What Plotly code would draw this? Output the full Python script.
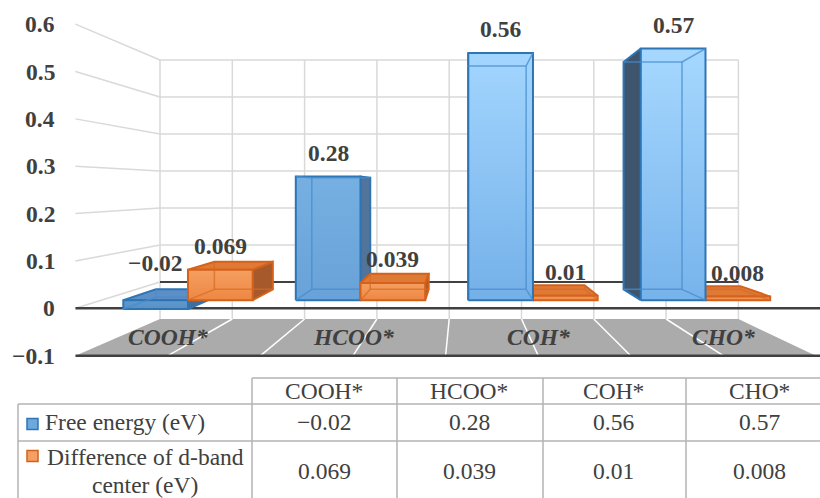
import plotly.graph_objects as go

# ---- data -------------------------------------------------------------
categories = ["COOH*", "HCOO*", "COH*", "CHO*"]
free_energy = [-0.02, 0.28, 0.56, 0.57]
dband_diff = [0.069, 0.039, 0.01, 0.008]
series_labels = ["Free energy (eV)", "Difference of d-band<br>center (eV)"]
value_ticks = [-0.1, 0, 0.1, 0.2, 0.3, 0.4, 0.5, 0.6]

# ---- scene geometry (pixel space, y grows downwards) -------------------
W, H = 820, 498
VPX, VPY = 462.0, 188.0          # vanishing point of the perspective
BACK_LEFT, SLOT = 160.0, 72.3    # back wall left edge, half-category width
ZERO_Y, PX_PER_UNIT = 282.0, 370.0
S_FRONT = 1.28                   # scale of the front plane
S_BAR_FRONT, S_BAR_BACK = 1.193, 1.078
VMIN, VMAX = -0.1, 0.6
N_SLOTS = 2 * len(categories)

FONT = "Times New Roman, Liberation Serif, serif"
FS = 23.5
TXT = "#404040"
GRID = "#d9d9d9"
DARK = "#404040"

BLUE_LINE = "#2e75b6"
BLUE_FRONT = [("#6199cf", "#5a8fc6"), ("#76afe1", "#69a2d8"),
              ("#a3d6ff", "#74b0e8"), ("#a6d8ff", "#77b3eb")]
BLUE_TOP = "#5b8fc6"
BLUE_SIDE = ["#4a6c8e", "#52749a", "#3e586f", "#3d566d"]
ORANGE_LINE = "#d4621b"
ORANGE_FRONT = ("#f59f60", "#ee8743")
ORANGE_TOP, ORANGE_SIDE = "#df7a36", "#a65a2b"


def proj(u, v, s):
    """Project slot position u / value v at depth scale s to the page."""
    X = BACK_LEFT + u * SLOT
    Y = ZERO_Y - v * PX_PER_UNIT
    return VPX + s * (X - VPX), VPY + s * (Y - VPY)


fig = go.Figure()
shapes, annotations = [], []


def line(p, q, color, width):
    shapes.append(dict(type="line", xref="x", yref="y", x0=p[0], y0=p[1],
                       x1=q[0], y1=q[1], layer="below",
                       line=dict(color=color, width=width)))


# floor
fl = [proj(0, VMIN, 1), proj(N_SLOTS, VMIN, 1),
      proj(N_SLOTS, VMIN, S_FRONT), proj(0, VMIN, S_FRONT)]
shapes.append(dict(type="path", xref="x", yref="y", layer="below",
                   path="M " + " L ".join(f"{x:.1f},{y:.1f}" for x, y in fl) + " Z",
                   fillcolor="#ababab", line=dict(width=0)))
for k in range(1, N_SLOTS):
    line(proj(k, VMIN, 1), proj(k, VMIN, S_FRONT), "white", 1.5)

# back wall verticals and gridlines, side wall gridlines
for k in range(N_SLOTS + 1):
    line(proj(k, VMAX, 1), proj(k, VMIN, 1), GRID, 1.5)
for v in value_ticks[1:]:
    line(proj(0, v, S_FRONT), proj(0, v, 1), GRID, 1.5)
    if v != 0:
        line(proj(0, v, 1), proj(N_SLOTS, v, 1), GRID, 1.5)
line(proj(0, 0, 1), proj(N_SLOTS, 0, 1), DARK, 2)
for v in (0, VMIN):
    p = proj(0, v, S_FRONT)
    line(p, (W, p[1]), DARK, 2.5)

# value labels on the front plane
for v in value_ticks:
    x, y = proj(0, v, S_FRONT)
    txt = f"{v:g}".replace("-", "\u2212")
    annotations.append(dict(x=x - 18, y=y, xref="x", yref="y", text=txt,
                            showarrow=False, xanchor="right", yanchor="middle",
                            font=dict(family=FONT, size=FS, color=TXT, weight="bold")))

# category labels lying on the floor
for i, c in enumerate(categories):
    x, y = proj(2 * i + 1, -0.06, S_FRONT)
    annotations.append(dict(x=x, y=y, xref="x", yref="y", text=c, showarrow=False,
                            font=dict(family=FONT, size=FS, color=TXT,
                                      weight="bold", style="italic")))


def polygon(pts, fill, edge, grad=None):
    xs = [p[0] for p in pts] + [pts[0][0]]
    ys = [p[1] for p in pts] + [pts[0][1]]
    tr = go.Scatter(x=xs, y=ys, mode="lines", fill="toself", fillcolor=fill,
                    line=dict(color=edge, width=2), hoverinfo="skip",
                    showlegend=False)
    if grad is not None:
        top, bottom, y_top, y_bot = grad
        tr.update(fillgradient=dict(type="vertical", start=y_bot, stop=y_top,
                                    colorscale=[[0, bottom], [1, top]]))
    fig.add_trace(tr)


def box(u0, u1, value, front, top_c, side_c, edge, hidden):
    v0, v1 = min(0, value), max(0, value)
    us, vs, ss = (u0, u1), (v0, v1), (S_BAR_FRONT, S_BAR_BACK)
    P = {(a, b, c): proj(us[a], vs[b], ss[c])
         for a in (0, 1) for b in (0, 1) for c in (0, 1)}
    faces = [("c", 0)]
    X0 = BACK_LEFT + u0 * SLOT
    X1 = BACK_LEFT + u1 * SLOT
    if ZERO_Y - v1 * PX_PER_UNIT > VPY:
        faces.append(("b", 1))
    if X1 < VPX:
        faces.append(("a", 1))
    if X0 > VPX:
        faces.append(("a", 0))
    # side / top faces first, front face on top
    if ("a", 1) in faces:
        polygon([P[1, 0, 0], P[1, 1, 0], P[1, 1, 1], P[1, 0, 1]], side_c, edge)
    if ("a", 0) in faces:
        polygon([P[0, 0, 0], P[0, 1, 0], P[0, 1, 1], P[0, 0, 1]], side_c, edge)
    if ("b", 1) in faces:
        polygon([P[0, 1, 0], P[1, 1, 0], P[1, 1, 1], P[0, 1, 1]], top_c, edge)
    fy_top, fy_bot = P[0, 1, 0][1], P[0, 0, 0][1]
    polygon([P[0, 0, 0], P[1, 0, 0], P[1, 1, 0], P[0, 1, 0]], front[1], edge,
            grad=(front[0], front[1], fy_top, fy_bot))
    # edges seen through the translucent faces
    axis_idx = {"a": 0, "b": 1, "c": 2}
    hx, hy = [], []
    verts = list(P.keys())
    for i_, p in enumerate(verts):
        for q in verts[i_ + 1:]:
            diff = [k for k in range(3) if p[k] != q[k]]
            if len(diff) != 1:
                continue
            on_face = any(p[axis_idx[ax]] == val and q[axis_idx[ax]] == val
                          and axis_idx[ax] != diff[0] for ax, val in faces)
            if not on_face:
                hx += [P[p][0], P[q][0], None]
                hy += [P[p][1], P[q][1], None]
    fig.add_trace(go.Scatter(x=hx, y=hy, mode="lines", hoverinfo="skip",
                             showlegend=False, line=dict(color=hidden, width=1.5)))
    return P


def data_label(P, value):
    x = (P[0, 1, 0][0] + P[1, 1, 0][0]) / 2
    y = P[0, 1, 0][1] - (37 if value < 0 else 24)
    annotations.append(dict(x=x, y=y, xref="x", yref="y",
                            text=f"{value:g}".replace("-", "\u2212"),
                            showarrow=False, yanchor="middle",
                            font=dict(family=FONT, size=FS, color=TXT, weight="bold")))


# bars, painted from the outside in towards the vanishing point
for i in range(len(categories)):
    blue = (2 * i + 0.25, 2 * i + 1.0, free_energy[i], BLUE_FRONT[i], BLUE_TOP,
            BLUE_SIDE[i], BLUE_LINE, "rgba(70,140,205,0.75)")
    orange = (2 * i + 1.0, 2 * i + 1.75, dband_diff[i], ORANGE_FRONT, ORANGE_TOP,
              ORANGE_SIDE, ORANGE_LINE, "rgba(215,105,35,0.7)")
    centre_x = BACK_LEFT + (2 * i + 1) * SLOT
    order = [blue, orange] if centre_x < VPX else [orange, blue]
    for spec in order:
        P = box(*spec)
        data_label(P, spec[2])

# ---- data table ---------------------------------------------------------
COL_X = [252, 397, 543, 686, 840]
ROW_Y = [378, 404, 441, 530]
TBL = "#b3b3b3"


def tline(x0, y0, x1, y1):
    shapes.append(dict(type="line", xref="x", yref="y", x0=x0, y0=y0, x1=x1,
                       y1=y1, line=dict(color=TBL, width=1.5)))


tline(COL_X[0], ROW_Y[0], W, ROW_Y[0])
tline(18, ROW_Y[1], W, ROW_Y[1])
tline(18, ROW_Y[2], W, ROW_Y[2])
tline(18, ROW_Y[1], 18, ROW_Y[3])
for x in COL_X[:-1]:
    tline(x, ROW_Y[0], x, ROW_Y[3])

cell_font = dict(family=FONT, size=FS, color=TXT)
row_mid = [391, 422, 471]
col_mid = [324, 469, 613, 759]
for j, c in enumerate(categories):
    cx = col_mid[j]
    annotations.append(dict(x=cx, y=row_mid[0], xref="x", yref="y", text=c,
                            showarrow=False, font=cell_font))
    for r, series in enumerate((free_energy, dband_diff)):
        annotations.append(dict(x=cx, y=row_mid[r + 1], xref="x", yref="y",
                                text=f"{series[j]:g}".replace("-", "\u2212"),
                                showarrow=False, font=cell_font))

# legend keys + series names
keys = [("#6fa8dc", BLUE_LINE, 424), ("#f4a064", ORANGE_LINE, 456)]
for (fill, edge, ky) in keys:
    shapes.append(dict(type="rect", xref="x", yref="y", x0=27, x1=38,
                       y0=ky - 5.5, y1=ky + 5.5, fillcolor=fill,
                       line=dict(color=edge, width=1.5)))
annotations.append(dict(x=43, y=row_mid[1], xref="x", yref="y", text=series_labels[0],
                        showarrow=False, xanchor="left", font=cell_font))
# two-line series name, each line placed separately for tighter spacing
for k, part in enumerate(series_labels[1].split("<br>")):
    annotations.append(dict(x=145, y=457 + 28 * k, xref="x", yref="y", text=part,
                            showarrow=False, font=cell_font))

fig.update_layout(
    width=W, height=H, margin=dict(l=0, r=0, t=0, b=0),
    paper_bgcolor="white", plot_bgcolor="white",
    xaxis=dict(range=[0, W], visible=False, fixedrange=True),
    yaxis=dict(range=[H, 0], visible=False, fixedrange=True),
    shapes=shapes, annotations=annotations, showlegend=False,
)
fig.write_html("out.html")
